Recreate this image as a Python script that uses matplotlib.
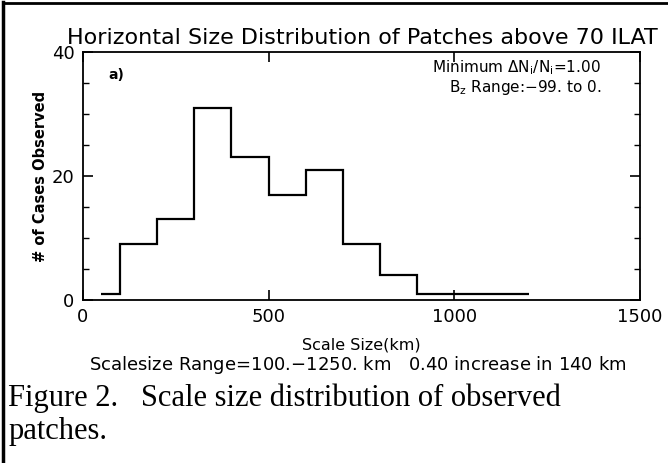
import numpy as np
import matplotlib
matplotlib.use("Agg")
import matplotlib.pyplot as plt
from matplotlib.lines import Line2D

# bordes de las clases (km) y numero de casos observados
bordes = [50, 100, 200, 300, 400, 500, 600, 700, 800, 900, 1000, 1200]
casos = [1, 9, 13, 31, 23, 17, 21, 9, 4, 1, 1]

xticks = [0, 500, 1000, 1500]
yticks = [0, 20, 40]

titulo = "Horizontal Size Distribution of Patches above 70 ILAT"
nota1 = r"Minimum $\Delta$N$_i$/N$_i$=1.00"
nota2 = r"B$_z$ Range:$-$99. to 0."
subtitulo = "Scalesize Range=100.$-$1250. km   0.40 increase in 140 km"
leyenda = ["Figure 2.   Scale size distribution of observed", "patches."]

plt.rcParams['font.family'] = ['DejaVu Sans']
plt.rcParams['mathtext.default'] = 'regular'

fig = plt.figure(figsize=(6.68, 4.63), dpi=100)
ax = fig.add_axes([0.124, 0.352, 0.834, 0.536])

ax.stairs(casos, bordes, baseline=None, color='black', linewidth=1.6)

ax.set_xlim(0, 1500)
ax.set_ylim(0, 40)
ax.set_xticks(xticks)
ax.set_yticks(yticks)
ax.set_yticks([5, 10, 15, 25, 30, 35], minor=True)
ax.tick_params(direction='in', top=True, right=True, length=7, width=1.2,
               labelsize=13, pad=6)
ax.tick_params(which='minor', direction='in', right=True, length=4, width=1.0)
for s in ax.spines.values():
	s.set_linewidth(1.3)

ax.set_xlabel("Scale Size(km)", fontsize=11.5, labelpad=8)
ax.set_ylabel("# of Cases Observed", fontsize=10.5, fontweight='bold', labelpad=3)

fig.text(0.542, 0.918, titulo, ha='center', va='center', fontsize=16)
ax.text(0.045, 0.905, "a)", transform=ax.transAxes, fontsize=10, fontweight='bold',
        ha='left', va='center')
ax.text(0.93, 0.935, nota1, transform=ax.transAxes, fontsize=11, ha='right', va='center')
ax.text(0.93, 0.855, nota2, transform=ax.transAxes, fontsize=11, ha='right', va='center')
fig.text(0.535, 0.212, subtitulo, ha='center', va='center', fontsize=13)

fig.text(0.012, 0.14, leyenda[0], ha='left', va='center', fontsize=22,
         family='Liberation Serif')
fig.text(0.012, 0.067, leyenda[1], ha='left', va='center', fontsize=22,
         family='Liberation Serif')

# marco de la pagina escaneada
fig.add_artist(Line2D([0.004, 0.004], [0, 0.995], color='black', linewidth=2.5))
fig.add_artist(Line2D([0.004, 1.0], [0.993, 0.993], color='black', linewidth=2))

fig.savefig("out.png", dpi=100)
